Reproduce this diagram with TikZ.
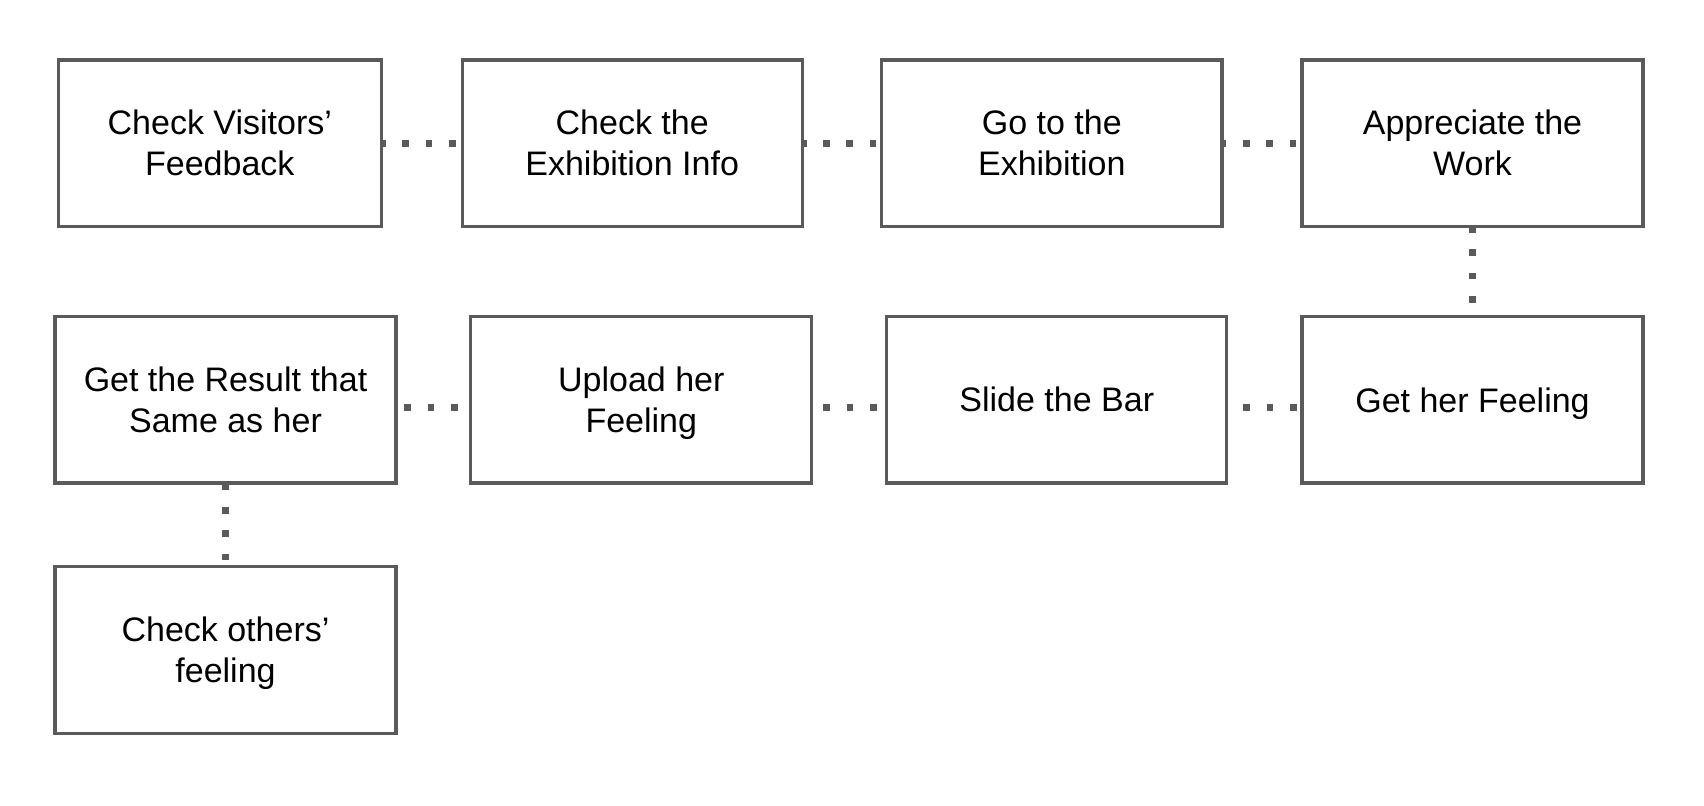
\documentclass[tikz,border=0pt]{standalone}
\usepackage{fontspec}
\setmainfont{Liberation Sans}
\definecolor{linegray}{HTML}{5A5A5A}
\begin{document}
\begin{tikzpicture}[x=0.5pt,y=-0.5pt,
  stepbox/.style={draw=linegray, line width=1.65pt, fill=white, inner sep=0pt,
    minimum height=83.25pt, align=center, text=black,
    font=\fontsize{17}{20.5}\selectfont},
  wide/.style={minimum width=170.5pt},
  flat/.style={text depth=0pt},
  conn/.style={draw=linegray, line width=3.33pt, dash pattern=on 3.33pt off 8.33pt}]
\useasboundingbox[fill=white] (0,0) rectangle (1704,806);
% row 1
\node[stepbox, minimum width=161.5pt] (b1) at (219.8,143.3) {Check Visitors’\\Feedback};
\node[stepbox, minimum width=170pt] (b2) at (632.2,143.3) {Check the\\Exhibition Info};
\node[stepbox, minimum width=170.2pt] (b3) at (1051.8,143.3) {Go to the\\Exhibition};
\node[stepbox, wide] (b4) at (1472.5,143.3) {Appreciate the\\Work};
% row 2
\node[stepbox, wide] (b5) at (225.5,399.7) {Get the Result that\\Same as her};
\node[stepbox, wide, flat] (b6) at (641.3,399.7) {Upload her\\Feeling};
\node[stepbox, minimum width=170pt] (b7) at (1056.8,399.7) {Slide the Bar};
\node[stepbox, wide, flat] (b8) at (1472.5,399.7) {Get her Feeling};
% row 3
\node[stepbox, wide, flat] (b9) at (225.5,650) {Check others’\\feeling};
% connectors
\draw[conn, dash phase=2pt] (b1.east) -- (b2.west);
\draw[conn, dash phase=2pt] (b2.east) -- (b3.west);
\draw[conn, dash phase=2pt] (b3.east) -- (b4.west);
\draw[conn, dash phase=1.1pt] (b4.south) -- (b8.north);
\draw[conn, dash phase=8.3pt] ([yshift=-3.8pt]b5.east) -- ([yshift=-3.8pt]b6.west);
\draw[conn, dash phase=6.7pt] ([yshift=-3.8pt]b6.east) -- ([yshift=-3.8pt]b7.west);
\draw[conn, dash phase=4.2pt] ([yshift=-3.8pt]b7.east) -- ([yshift=-3.8pt]b8.west);
\draw[conn, dash phase=0.5pt] (b5.south) -- (b9.north);
\end{tikzpicture}
\end{document}
